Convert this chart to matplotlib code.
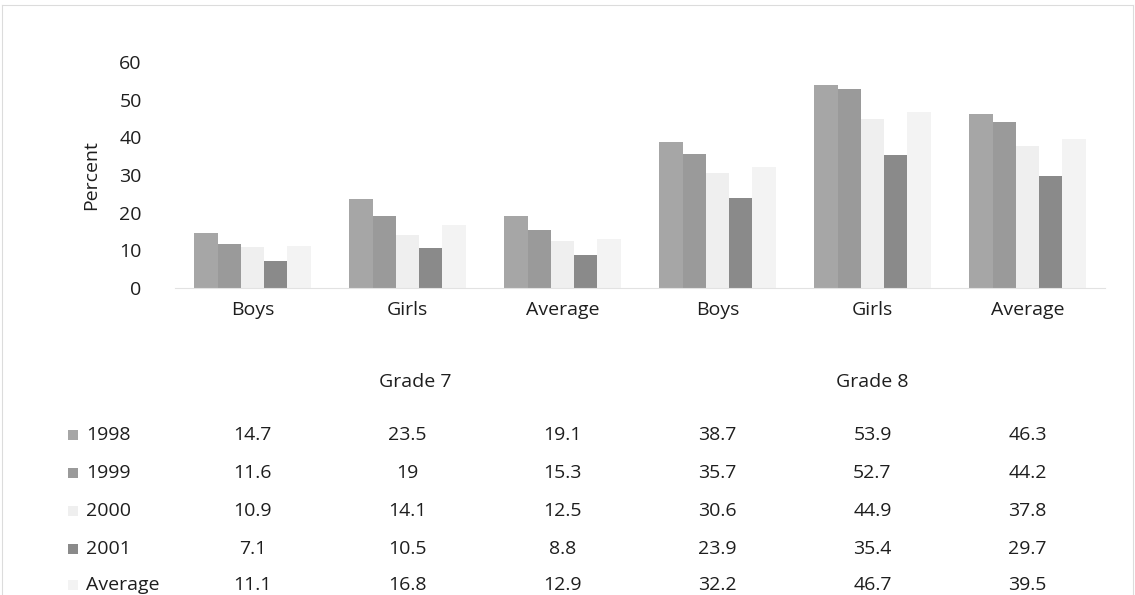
import matplotlib
matplotlib.use("Agg")
import matplotlib.pyplot as plt
from matplotlib.transforms import blended_transform_factory
from matplotlib.patches import Rectangle

plt.rcParams['font.family'] = ['Open Sans', 'DejaVu Sans']

categories = ["Boys", "Girls", "Average", "Boys", "Girls", "Average"]
grades = ["Grade 7", "Grade 8"]
series_names = ["1998", "1999", "2000", "2001", "Average"]
v1998 = [14.7, 23.5, 19.1, 38.7, 53.9, 46.3]
v1999 = [11.6, 19, 15.3, 35.7, 52.7, 44.2]
v2000 = [10.9, 14.1, 12.5, 30.6, 44.9, 37.8]
v2001 = [7.1, 10.5, 8.8, 23.9, 35.4, 29.7]
vavg = [11.1, 16.8, 12.9, 32.2, 46.7, 39.5]
series = [v1998, v1999, v2000, v2001, vavg]
colors = ["#a6a6a6", "#9a9a9a", "#efefef", "#8a8a8a", "#f3f3f3"]
yticks = [0, 10, 20, 30, 40, 50, 60]

FS = 14
TC = "#1e1e1e"
W, H = 1135, 595
fig = plt.figure(figsize=(W / 100, H / 100), dpi=100)
ax = fig.add_axes([175 / W, 1 - 288 / H, 930 / W, (288 - 62) / H])

n = len(series)
bw = 0.15
x = list(range(len(categories)))
for i, (vals, c) in enumerate(zip(series, colors)):
    off = (i - (n - 1) / 2) * bw
    ax.bar([xi + off for xi in x], vals, width=bw, color=c, edgecolor="none")

ax.set_xlim(-0.5, len(categories) - 0.5)
ax.set_ylim(0, 60)
ax.set_yticks(yticks)
ax.set_yticklabels([str(t) for t in yticks], fontsize=FS, color=TC)
ax.tick_params(axis="y", length=0, pad=24)
ax.set_xticks([])
for s in ["top", "right", "left"]:
    ax.spines[s].set_visible(False)
ax.spines["bottom"].set_color("#e2e2e2")
ax.set_ylabel("Percent", fontsize=FS, color=TC, labelpad=14)

trans = blended_transform_factory(ax.transData, fig.transFigure)
def fy(py):
    return 1 - py / H

# category labels
for xi, lab in zip(x, categories):
    fig.text(xi, fy(310), lab, transform=trans, ha="center", va="center",
             fontsize=FS, color=TC)
# grade labels
fig.text(1.05, fy(382), grades[0], transform=trans, ha="center", va="center",
         fontsize=FS, color=TC)
fig.text(4.0, fy(382), grades[1], transform=trans, ha="center", va="center",
         fontsize=FS, color=TC)

# data table
row_y = [435, 473, 511, 549, 585]
for ry, name, vals, c in zip(row_y, series_names, series, colors):
    fig.patches.append(Rectangle((68 / W, fy(ry + 5)), 10 / W, 10 / H,
                                 transform=fig.transFigure, facecolor=c,
                                 edgecolor="none"))
    fig.text(86 / W, fy(ry), name, ha="left", va="center", fontsize=FS,
             color=TC)
    for xi, v in zip(x, vals):
        fig.text(xi, fy(ry), f"{v:g}", transform=trans, ha="center",
                 va="center", fontsize=FS, color=TC)

# outer frame (top and sides)
fc = "#dcdcdc"
fig.add_artist(plt.Line2D([2 / W, (W - 2) / W], [fy(5), fy(5)],
                          transform=fig.transFigure, color=fc, lw=0.8))
fig.add_artist(plt.Line2D([2 / W, 2 / W], [fy(5), 0],
                          transform=fig.transFigure, color=fc, lw=0.8))
fig.add_artist(plt.Line2D([(W - 2) / W, (W - 2) / W], [fy(5), 0],
                          transform=fig.transFigure, color=fc, lw=0.8))

fig.savefig("out.png", dpi=100)
